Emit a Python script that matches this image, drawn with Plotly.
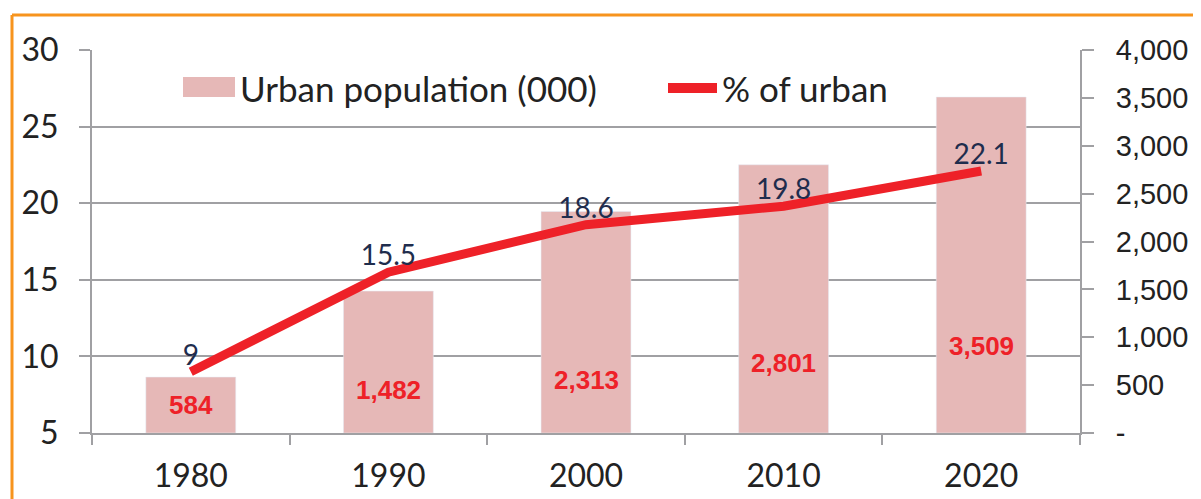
import plotly.graph_objects as go

years = ["1980", "1990", "2000", "2010", "2020"]
urban_pop = [584, 1482, 2313, 2801, 3509]
urban_pop_labels = ["584", "1,482", "2,313", "2,801", "3,509"]
pct_urban = [9, 15.5, 18.6, 19.8, 22.1]
pct_labels = ["9", "15.5", "18.6", "19.8", "22.1"]
right_tickvals = [0, 500, 1000, 1500, 2000, 2500, 3000, 3500, 4000]
right_ticktext = ["-", "500", "1,000", "1,500", "2,000", "2,500", "3,000", "3,500", "4,000"]
# relative height (fraction of bar) where each bar label sits
label_frac = [0.5, 0.30, 0.24, 0.26, 0.26]

BAR = "#e6b8b7"
RED = "#ee2128"
NAVY = "#1f2d4d"
GRID = "#a0a0a3"
ORANGE = "#f7941d"
THIN = "Lato"

# page body has an 8px offset; plot area target in page pixels: x 92..1080, y 50..433
OFF = 8
L, R, T, B = 92 - OFF, 1080 - OFF, 50 - OFF, 433 - OFF
W, H = 1201, 499


def px(xp):
    return (xp - 92) / 988


def py(yp):
    return (433 - yp) / 383


fig = go.Figure()
fig.add_trace(go.Bar(x=years, y=urban_pop, yaxis="y", marker_color=BAR,
                     width=0.455, showlegend=False, hoverinfo="skip"))
fig.add_trace(go.Scatter(x=years, y=pct_urban, yaxis="y2", mode="lines+text", text=pct_labels,
                         textposition="top center",
                         textfont=dict(family=THIN, size=28, color=NAVY),
                         line=dict(color=RED, width=9), showlegend=False))

for i, (v, lab, f) in enumerate(zip(urban_pop, urban_pop_labels, label_frac)):
    fig.add_annotation(x=i, y=v * f, xref="x", yref="y", text="<b>" + lab + "</b>", showarrow=False,
                       font=dict(family="Liberation Sans Narrow, Arial Narrow, Liberation Sans",
                                 size=26, color=RED))

# custom legend
LEG_Y = py(88)
fig.add_shape(type="rect", xref="paper", yref="paper", x0=px(183), x1=px(235),
              y0=py(97), y1=py(77), fillcolor=BAR, line_width=0)
fig.add_annotation(xref="paper", yref="paper", x=px(238), y=LEG_Y, xanchor="left", yanchor="middle",
                   text="Urban population (000)", showarrow=False,
                   font=dict(family=THIN, size=35, color="#222"))
fig.add_shape(type="line", xref="paper", yref="paper", x0=px(668), x1=px(717),
              y0=LEG_Y, y1=LEG_Y, line=dict(color=RED, width=10))
fig.add_annotation(xref="paper", yref="paper", x=px(720), y=LEG_Y, xanchor="left", yanchor="middle",
                   text="% of urban", showarrow=False,
                   font=dict(family=THIN, size=35, color="#222"))

# orange frame
fig.add_shape(type="line", xref="paper", yref="paper", x0=px(12), x1=px(1215),
              y0=py(15), y1=py(15), line=dict(color=ORANGE, width=3))
fig.add_shape(type="line", xref="paper", yref="paper", x0=px(12), x1=px(12),
              y0=py(15), y1=py(520), line=dict(color=ORANGE, width=3))

fig.update_layout(
    width=W, height=H,
    margin=dict(l=L, r=W - R, t=T, b=H - B, autoexpand=False),
    paper_bgcolor="white", plot_bgcolor="white",
    xaxis=dict(type="category", range=[-0.5, 4.5], tickson="boundaries", ticks="outside", ticklen=10,
               tickwidth=2, tickcolor=GRID, showline=True, linecolor=GRID, linewidth=2,
               tickfont=dict(family=THIN, size=32, color="#222"), showgrid=False,
               tickangle=0, ticklabelstandoff=14),
    yaxis=dict(side="right", range=[0, 4000], tickvals=right_tickvals,
               ticktext=right_ticktext, ticks="outside", ticklen=12, tickwidth=2,
               tickcolor=GRID, showline=True, linecolor=GRID, linewidth=2,
               showgrid=False, zeroline=False,
               tickfont=dict(family="Liberation Sans, Arial", size=29, color="#222"),
               ticklabelstandoff=16),
    yaxis2=dict(overlaying="y", side="left", range=[5, 30], dtick=5, ticks="outside", ticklen=11,
                tickwidth=2, tickcolor=GRID, showline=True, linecolor=GRID, linewidth=2,
                showgrid=True, gridcolor=GRID, gridwidth=2, zeroline=False,
                tickfont=dict(family=THIN, size=32, color="#222"), ticklabelstandoff=14),
)

fig.write_html("out.html")
